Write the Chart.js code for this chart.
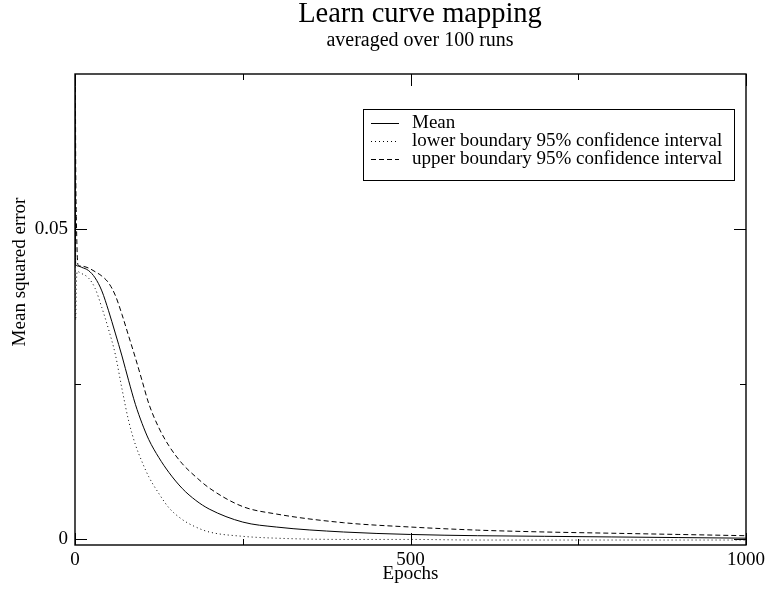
<!DOCTYPE html>
<html>
<head>
<meta charset="utf-8">
<script src="https://cdn.jsdelivr.net/npm/chart.js@4.4.1/dist/chart.umd.min.js"></script>
<style>
  html, body { margin: 0; padding: 0; background: #ffffff; }
  #wrap { width: 769px; height: 593px; }
</style>
</head>
<body>
<div id="wrap"><canvas id="c" width="769" height="593"></canvas></div>
<script>
// Learning curve: mean squared error per epoch, averaged over 100 runs
const epochs = [0, 1, 2, 3, 4, 5, 10, 20, 30, 40, 50, 60, 70, 80, 90, 100, 110, 125, 140, 160, 180, 200, 250, 300, 400, 500, 600, 700, 800, 900, 1000];

const meanError = [0.0900, 0.0441, 0.0441, 0.0441, 0.0440, 0.0440, 0.0438, 0.0433, 0.0421, 0.0400, 0.0368, 0.0332, 0.0295, 0.0255, 0.0217, 0.0186, 0.0160, 0.0131, 0.0107, 0.0081, 0.0062, 0.0048, 0.0027, 0.0019, 0.0011, 0.0007, 0.0005, 0.0004, 0.0003, 0.0002, 0.0001];

const lowerBound = [0.0530, 0.0353, 0.0410, 0.0430, 0.0432, 0.0431, 0.0428, 0.0421, 0.0404, 0.0373, 0.0338, 0.0298, 0.0242, 0.0190, 0.0152, 0.0124, 0.0100, 0.0073, 0.0050, 0.0031, 0.0019, 0.0011, 0.0004, 0.0001, -0.0001, -0.0001, -0.0002, -0.0002, -0.0002, -0.0002, -0.0002];

const upperBound = [0.1000, 0.0620, 0.0520, 0.0470, 0.0445, 0.0441, 0.0440, 0.0437, 0.0431, 0.0424, 0.0413, 0.0393, 0.0362, 0.0327, 0.0292, 0.0255, 0.0218, 0.0179, 0.0150, 0.0121, 0.0100, 0.0082, 0.0052, 0.0040, 0.0026, 0.0019, 0.0014, 0.0011, 0.0009, 0.0007, 0.0005];

const xLabelTicks = [0, 500, 1000];
const xMinorTicks = [250, 750];
const yLabelTicks = [0, 0.05];
const yMinorTicks = [0.025];

const titleText = 'Learn curve mapping';
const subtitleText = 'averaged over 100 runs';
const yAxisText = 'Mean squared error';
const seriesNames = ['Mean', 'lower boundary 95% confidence interval', 'upper boundary 95% confidence interval'];

const SERIF = "'Liberation Serif', 'DejaVu Serif', serif";

function points(values) {
  return epochs.map((e, i) => ({ x: e, y: values[i] }));
}

// Title block and the vertical axis caption
const headings = {
  id: 'headings',
  afterDraw(chart) {
    const { ctx } = chart;
    ctx.save();
    ctx.fillStyle = '#000';
    ctx.textAlign = 'center';
    ctx.textBaseline = 'middle';
    ctx.font = '28.5px ' + SERIF;
    ctx.fillText(titleText, 420, 15);
    ctx.font = '20px ' + SERIF;
    ctx.fillText(subtitleText, 420, 41);
    ctx.translate(20, 272);
    ctx.rotate(-Math.PI / 2);
    ctx.font = '19px ' + SERIF;
    ctx.fillText(yAxisText, 0, 0);
    ctx.restore();
  }
};

// Frame with inward tick marks on all four sides
const frameTicks = {
  id: 'frameTicks',
  afterDraw(chart) {
    const { ctx, chartArea: a, scales: { x, y } } = chart;
    ctx.save();
    ctx.strokeStyle = '#000';
    ctx.lineWidth = 1.4;
    ctx.strokeRect(a.left, a.top, a.right - a.left, a.bottom - a.top);
    ctx.lineWidth = 1;
    const major = 12, minor = 6;
    ctx.beginPath();
    const vx = (v, len) => {
      const px = Math.round(x.getPixelForValue(v)) + 0.5;
      ctx.moveTo(px, a.bottom); ctx.lineTo(px, a.bottom - len);
      ctx.moveTo(px, a.top); ctx.lineTo(px, a.top + len);
    };
    const hy = (v, len) => {
      const py = Math.round(y.getPixelForValue(v)) + 0.5;
      ctx.moveTo(a.left, py); ctx.lineTo(a.left + len, py);
      ctx.moveTo(a.right, py); ctx.lineTo(a.right - len, py);
    };
    xLabelTicks.forEach(v => vx(v, major));
    xMinorTicks.forEach(v => vx(v, minor));
    yLabelTicks.forEach(v => hy(v, major));
    yMinorTicks.forEach(v => hy(v, minor));
    ctx.stroke();
    ctx.restore();
  }
};

// Boxed legend inside the plot, drawn from the dataset styles
const boxLegend = {
  id: 'boxLegend',
  afterDraw(chart) {
    const { ctx } = chart;
    const box = { left: 363, top: 109, width: 371, height: 71 };
    ctx.save();
    ctx.fillStyle = '#fff';
    ctx.fillRect(box.left, box.top, box.width, box.height);
    ctx.strokeStyle = '#000';
    ctx.lineWidth = 1;
    ctx.strokeRect(box.left + 0.5, box.top + 0.5, box.width, box.height);
    ctx.font = '19px ' + SERIF;
    ctx.textBaseline = 'middle';
    ctx.fillStyle = '#000';
    chart.data.datasets.forEach((ds, i) => {
      const yy = box.top + 14 + i * 18;
      ctx.beginPath();
      ctx.setLineDash(ds.borderDash || []);
      ctx.lineWidth = 1;
      ctx.strokeStyle = ds.borderColor;
      ctx.moveTo(box.left + 8, Math.round(yy) + 0.5);
      ctx.lineTo(box.left + 36, Math.round(yy) + 0.5);
      ctx.stroke();
      ctx.setLineDash([]);
      ctx.fillText(ds.label, box.left + 49, yy);
    });
    ctx.restore();
  }
};

const lineStyle = { borderColor: '#000', borderWidth: 1, pointRadius: 0, fill: false, cubicInterpolationMode: 'monotone' };

new Chart(document.getElementById('c'), {
  type: 'line',
  data: {
    datasets: [
      Object.assign({ label: seriesNames[0], data: points(meanError), borderDash: [] }, lineStyle),
      Object.assign({ label: seriesNames[1], data: points(lowerBound), borderDash: [1, 3] }, lineStyle),
      Object.assign({ label: seriesNames[2], data: points(upperBound), borderDash: [5, 3] }, lineStyle)
    ]
  },
  plugins: [headings, frameTicks, boxLegend],
  options: {
    responsive: false,
    animation: false,
    events: [],
    layout: { padding: { left: 0, right: 22, top: 74, bottom: 0 } },
    plugins: {
      legend: { display: false },
      tooltip: { enabled: false },
      title: { display: false },
      subtitle: { display: false }
    },
    scales: {
      x: {
        type: 'linear',
        min: 0,
        max: 1000,
        afterBuildTicks: s => { s.ticks = xLabelTicks.map(v => ({ value: v })); },
        afterFit: s => { s.height = 48; },
        grid: { display: false, drawTicks: false },
        border: { display: false },
        ticks: { color: '#000', font: { family: SERIF, size: 19 }, padding: 4, maxRotation: 0, autoSkip: false, callback: v => String(v) },
        title: { display: true, text: 'Epochs', color: '#000', font: { family: SERIF, size: 19 }, padding: { top: 0, bottom: 8 } }
      },
      y: {
        type: 'linear',
        min: -0.001,
        max: 0.075,
        afterBuildTicks: s => { s.ticks = yLabelTicks.map(v => ({ value: v })); },
        afterFit: s => { s.width = 75; },
        grid: { display: false, drawTicks: false },
        border: { display: false },
        ticks: { color: '#000', font: { family: SERIF, size: 19 }, padding: 7, autoSkip: false, callback: v => String(v) },
        title: { display: false }
      }
    }
  }
});
</script>
</body>
</html>
